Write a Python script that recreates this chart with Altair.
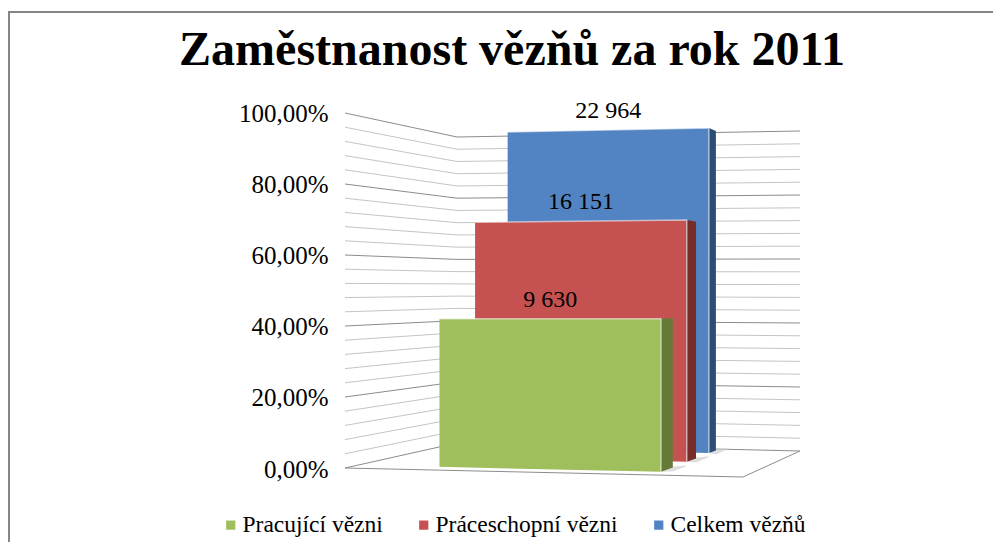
import altair as alt
import pandas as pd

# --- values ---
series = ["Celkem vězňů", "Práceschopní vězni", "Pracující vězni"]
percent = [100.0, 70.33, 41.93]
counts = ["22 964", "16 151", "9 630"]
legend_order = ["Pracující vězni", "Práceschopní vězni", "Celkem vězňů"]
front_colors = ["#9FBE5C", "#C55250", "#5283C2"]
side_colors = {"Celkem vězňů": "#2C4D75", "Práceschopní vězni": "#772C2A", "Pracující vězni": "#647A36"}
axis_ticks = [0, 20, 40, 60, 80, 100]
grid_steps = list(range(0, 101, 4))

# --- 3D box projection (bilinear) ---
floor = {"fl": (345, 468), "fr": (743, 477), "bl": (457, 443), "br": (800, 451)}
roof = {"fl": (345, 113), "fr": (743, 100), "bl": (457, 137), "br": (800, 131)}
bar_u = {"Celkem vězňů": (0.192, 0.765), "Práceschopní vězni": (0.198, 0.77), "Pracující vězni": (0.207, 0.773)}
bar_w = {"Celkem vězňů": (0.85, 0.95), "Práceschopní vězni": (0.507, 0.64), "Pracující vězni": (0.12, 0.29)}


def bilerp(c, u, w):
    x = (1-u)*(1-w)*c["fl"][0] + u*(1-w)*c["fr"][0] + (1-u)*w*c["bl"][0] + u*w*c["br"][0]
    y = (1-u)*(1-w)*c["fl"][1] + u*(1-w)*c["fr"][1] + (1-u)*w*c["bl"][1] + u*w*c["br"][1]
    return x, y


def project(u, w, v):
    x, y0 = bilerp(floor, u, w)
    _, y1 = bilerp(roof, u, w)
    return x, y0 + (y1 - y0) * v / 100


grid_rows = []
for v in grid_steps:
    for i, (u, w) in enumerate([(0, 0), (0, 1), (1, 1)]):
        x, y = project(u, w, v)
        grid_rows.append({"v": v, "i": i, "x": x, "y": y, "major": v % 20 == 0})
grid = pd.DataFrame(grid_rows)

floor_rows = []
for i, (u, w) in enumerate([(0, 0), (1, 0), (1, 1)]):
    x, y = project(u, w, 0)
    floor_rows.append({"i": i, "x": x, "y": y})
floor_df = pd.DataFrame(floor_rows)

front_rows, side_rows, edge_rows, label_rows, shadow_rows = [], [], [], [], []
for s, p, c in zip(series, percent, counts):
    w0, w1 = bar_w[s]
    u0, u1 = bar_u[s]
    for u in (u0, u1):
        x, yt = project(u, w0, p)
        _, yb = project(u, w0, 0)
        front_rows.append({"series": s, "x": x, "yt": yt, "yb": yb})
    for w in (w0, w1):
        x, yt = project(u1, w, p)
        _, yb = project(u1, w, 0)
        side_rows.append({"series": s, "x": x, "yt": yt, "yb": yb})
    xl, ytl = project(u0, w0, p)
    xr, ytr = project(u1, w0, p)
    _, ybr = project(u1, w0, 0)
    edge_rows += [{"series": s, "i": 0, "x": xl, "y": ytl},
                  {"series": s, "i": 1, "x": xr, "y": ytr},
                  {"series": s, "i": 2, "x": xr, "y": ybr}]
    label_rows.append({"label": c, "x": (xl + xr) / 2, "y": (ytl + ytr) / 2})
    # soft floor shadow right of the bar's side face
    xs0, ys0 = project(u1, w1, 0)
    xs1, ys1 = project(u1 + 0.025, w1 + 0.05, 0)
    shadow_rows += [{"series": s, "x": xr, "yt": ybr - 1, "yb": ybr},
                    {"series": s, "x": xs0, "yt": ys0 - 1, "yb": ys0 + 4},
                    {"series": s, "x": xs1, "yt": ys1 - 1, "yb": ys1}]
front = pd.DataFrame(front_rows)
side = pd.DataFrame(side_rows)
edge = pd.DataFrame(edge_rows)
labels = pd.DataFrame(label_rows)
shadow = pd.DataFrame(shadow_rows)

FONT = "Liberation Serif"
LEFT, RIGHT = 8, 993
TOP, BOTTOM = 8, 542
X = alt.X("x:Q", axis=None, scale=alt.Scale(domain=[LEFT, RIGHT], range=[0, RIGHT - LEFT], nice=False, zero=False))
Y = alt.Y("y:Q", axis=None, scale=alt.Scale(domain=[TOP, BOTTOM], range=[0, BOTTOM - TOP], nice=False, zero=False))
YT = alt.Y("yt:Q", axis=None, scale=alt.Scale(domain=[TOP, BOTTOM], range=[0, BOTTOM - TOP], nice=False, zero=False))

frame_top = alt.Chart(pd.DataFrame({"a": [0]})).mark_rule(color="#868686", strokeWidth=2).encode(
    x=alt.value(0), x2=alt.value(RIGHT - LEFT), y=alt.value(4))
frame_left = alt.Chart(pd.DataFrame({"a": [0]})).mark_rule(color="#868686", strokeWidth=2).encode(
    x=alt.value(1), y=alt.value(4), y2=alt.value(BOTTOM - TOP))

minor = alt.Chart(grid[~grid.major]).mark_line(color="#c4c4c4", strokeWidth=1).encode(
    x=X, y=Y, detail="v:N", order="i:Q")
major = alt.Chart(grid[grid.major]).mark_line(color="#8c8c8c", strokeWidth=1).encode(
    x=X, y=Y, detail="v:N", order="i:Q")
floor_line = alt.Chart(floor_df).mark_line(color="#8c8c8c", strokeWidth=1).encode(x=X, y=Y, order="i:Q")

shadows = alt.Chart(shadow).mark_area(interpolate="linear", color="#d0d0d0", opacity=0.7).encode(
    x=X, y=YT, y2="yb:Q", detail="series:N")
fronts = alt.Chart(front).mark_area(interpolate="linear").encode(
    x=X, y=YT, y2="yb:Q",
    color=alt.Color("series:N", sort=None,
                    scale=alt.Scale(domain=legend_order, range=front_colors),
                    legend=alt.Legend(title=None, orient="none", legendX=211, legendY=505, padding=0,
                                      direction="horizontal", columns=3, columnPadding=29,
                                      symbolType="square", symbolSize=85, symbolStrokeWidth=0,
                                      labelFont=FONT, labelFontSize=23.5, labelColor="#000000",
                                      labelOffset=0, labelLimit=300)))
sides = alt.Chart(side).mark_area(interpolate="linear").encode(
    x=X, y=YT, y2="yb:Q",
    fill=alt.Fill("series:N", legend=None,
                  scale=alt.Scale(domain=list(side_colors), range=list(side_colors.values()))))
edges = alt.Chart(edge).mark_line(color="#ffffff", opacity=0.55, strokeWidth=1.5).encode(
    x=X, y=Y, detail="series:N", order="i:Q")
texts = alt.Chart(labels).mark_text(font=FONT, fontSize=24, color="#000000", dy=-19).encode(
    x=X, y=Y, text="label:N")

axis_layer = alt.Chart(pd.DataFrame({"pct": axis_ticks})).mark_rule(opacity=0).encode(
    y=alt.Y("pct:Q",
            scale=alt.Scale(domain=[0, 100], range=[461, 105], nice=False, zero=False),
            axis=alt.Axis(title=None, values=axis_ticks, offset=-337, domain=False, ticks=False, grid=False,
                          labelPadding=17, labelFont=FONT, labelFontSize=25, labelColor="#000000",
                          labelExpr="replace(format(datum.value, '.2f'), '.', ',') + '%'")))

chart = alt.layer(frame_top, frame_left, minor, major, floor_line, shadows, fronts, sides, edges, texts, axis_layer).resolve_scale(
    y="independent", color="independent"
).properties(
    width=RIGHT - LEFT, height=BOTTOM - TOP, padding=0, autosize=alt.AutoSizeParams(type="none"),
    background="#ffffff",
    title=alt.TitleParams("Zaměstnanost vězňů za rok 2011", font=FONT, fontSize=48, fontWeight="bold",
                          color="#000000", anchor="middle", frame="group", offset=-67, dx=11.5),
).configure_view(stroke=None)

chart.save("out.html", embed_options={"renderer": "svg", "actions": False})
